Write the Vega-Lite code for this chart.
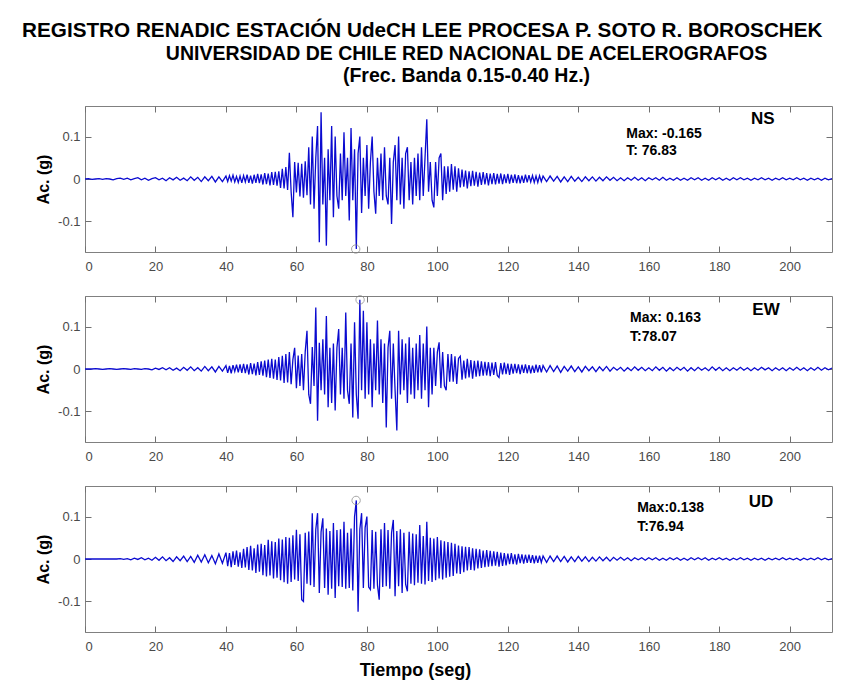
{
"$schema":"https://vega.github.io/schema/vega-lite/v6.json",
"background":"white",
"padding":{"left":22,"top":19,"right":10,"bottom":5},
"title":{"text":"REGISTRO RENADIC ESTACIÓN UdeCH LEE PROCESA P. SOTO R. BOROSCHEK","anchor":"start","frame":"bounds","font":"Liberation Sans","fontSize":20.7,"fontWeight":"bold","color":"#000","dx":-13,"offset":2},
"datasets":{
"peaks":[{"c":"NS","t":76.83,"a":-0.165},{"c":"EW","t":78.07,"a":0.163},{"c":"UD","t":76.94,"a":0.138}],
"ann":[
{"c":"NS","k":"s","t":153.6,"y":0.107,"txt":"Max: -0.165"},{"c":"NS","k":"s","t":153.6,"y":0.065,"txt":"T: 76.83"},{"c":"NS","k":"b","t":189,"y":0.142,"txt":"NS"},
{"c":"EW","k":"s","t":154.7,"y":0.121,"txt":"Max: 0.163"},{"c":"EW","k":"s","t":154.7,"y":0.076,"txt":"T:78.07"},{"c":"EW","k":"b","t":189.4,"y":0.139,"txt":"EW"},
{"c":"UD","k":"s","t":156.7,"y":0.120,"txt":"Max:0.138"},{"c":"UD","k":"s","t":156.7,"y":0.075,"txt":"T:76.94"},{"c":"UD","k":"b","t":188.4,"y":0.134,"txt":"UD"}],
"wave":[
{"t":0,"NS":0.000,"EW":0.000,"UD":0.000},{"t":1,"NS":0.001,"EW":0.000,"UD":0.000},{"t":2,"NS":-0.001,"EW":0.000,"UD":0.000},{"t":3,"NS":0.000,"EW":0.001,"UD":0.000},{"t":4,"NS":0.001,"EW":0.000,"UD":0.000},{"t":5,"NS":-0.001,"EW":-0.001,"UD":0.000},{"t":6,"NS":0.001,"EW":0.000,"UD":0.000},{"t":7,"NS":0.000,"EW":0.001,"UD":0.000},{"t":8,"NS":-0.002,"EW":0.000,"UD":0.000},{"t":9,"NS":0.001,"EW":-0.001,"UD":0.000},
{"t":10,"NS":0.002,"EW":0.000,"UD":0.001},{"t":11,"NS":-0.001,"EW":0.001,"UD":-0.001},{"t":12,"NS":0.002,"EW":0.000,"UD":0.001},{"t":13,"NS":-0.002,"EW":-0.001,"UD":-0.002},{"t":14,"NS":0.001,"EW":0.001,"UD":0.002},{"t":15,"NS":0.003,"EW":0.000,"UD":-0.001},{"t":16,"NS":-0.002,"EW":-0.001,"UD":0.003},{"t":17,"NS":0.002,"EW":0.001,"UD":-0.002},{"t":18,"NS":-0.003,"EW":0.000,"UD":0.002},{"t":19,"NS":0.001,"EW":-0.002,"UD":-0.003},
{"t":20,"NS":0.003,"EW":0.002,"UD":0.004},{"t":21,"NS":-0.002,"EW":-0.001,"UD":-0.003},{"t":22,"NS":0.002,"EW":0.003,"UD":0.005},{"t":23,"NS":-0.004,"EW":-0.002,"UD":-0.004},{"t":24,"NS":0.003,"EW":0.003,"UD":0.003},{"t":25,"NS":-0.002,"EW":-0.003,"UD":-0.006},{"t":26,"NS":0.004,"EW":0.002,"UD":0.005},{"t":27,"NS":-0.003,"EW":-0.004,"UD":-0.004},{"t":28,"NS":0.002,"EW":0.004,"UD":0.007},{"t":29,"NS":-0.004,"EW":-0.003,"UD":-0.006},
{"t":30,"NS":0.005,"EW":0.005,"UD":0.006},{"t":31,"NS":-0.003,"EW":-0.004,"UD":-0.008},{"t":32,"NS":0.004,"EW":0.003,"UD":0.009},{"t":33,"NS":-0.006,"EW":-0.005,"UD":-0.007},{"t":34,"NS":0.005,"EW":0.006,"UD":0.010},{"t":35,"NS":-0.004,"EW":-0.004,"UD":-0.009},{"t":36,"NS":0.006,"EW":0.005,"UD":0.008},{"t":37,"NS":-0.007,"EW":-0.007,"UD":-0.011},{"t":38,"NS":0.005,"EW":0.006,"UD":0.012},{"t":39,"NS":-0.006,"EW":-0.005,"UD":-0.010},
{"t":40,"NS":0.007,"EW":0.008,"UD":0.015},{"t":40.5,"NS":-0.006,"EW":-0.009,"UD":-0.017},{"t":41,"NS":0.008,"EW":0.007,"UD":0.014},{"t":41.5,"NS":-0.005,"EW":-0.010,"UD":-0.019},{"t":42,"NS":0.009,"EW":0.009,"UD":0.018},{"t":42.5,"NS":-0.007,"EW":-0.006,"UD":-0.014},{"t":43,"NS":0.006,"EW":0.010,"UD":0.020},{"t":43.5,"NS":-0.008,"EW":-0.008,"UD":-0.018},{"t":44,"NS":0.007,"EW":0.011,"UD":0.016},{"t":44.5,"NS":-0.009,"EW":-0.009,"UD":-0.021},
{"t":45,"NS":0.008,"EW":0.012,"UD":0.024},{"t":45.5,"NS":-0.007,"EW":-0.010,"UD":-0.020},{"t":46,"NS":0.010,"EW":0.011,"UD":0.028},{"t":46.5,"NS":-0.009,"EW":-0.013,"UD":-0.026},{"t":47,"NS":0.008,"EW":0.014,"UD":0.031},{"t":47.5,"NS":-0.011,"EW":-0.012,"UD":-0.027},{"t":48,"NS":0.010,"EW":0.013,"UD":0.025},{"t":48.5,"NS":-0.009,"EW":-0.015,"UD":-0.033},{"t":49,"NS":0.012,"EW":0.016,"UD":0.034},{"t":49.5,"NS":-0.010,"EW":-0.014,"UD":-0.030},
{"t":50,"NS":0.011,"EW":0.018,"UD":0.036},{"t":50.5,"NS":-0.013,"EW":-0.016,"UD":-0.038},{"t":51,"NS":0.014,"EW":0.020,"UD":0.033},{"t":51.5,"NS":-0.012,"EW":-0.019,"UD":-0.041},{"t":52,"NS":0.013,"EW":0.022,"UD":0.045},{"t":52.5,"NS":-0.015,"EW":-0.021,"UD":-0.039},{"t":53,"NS":0.016,"EW":0.024,"UD":0.042},{"t":53.5,"NS":-0.014,"EW":-0.023,"UD":-0.046},{"t":54,"NS":0.017,"EW":0.022,"UD":0.040},{"t":54.5,"NS":-0.016,"EW":-0.026,"UD":-0.044},
{"t":55,"NS":0.018,"EW":0.028,"UD":0.048},{"t":55.5,"NS":-0.021,"EW":-0.027,"UD":-0.050},{"t":56,"NS":0.024,"EW":0.031,"UD":0.046},{"t":56.5,"NS":-0.022,"EW":-0.033,"UD":-0.055},{"t":57,"NS":0.028,"EW":0.035,"UD":0.052},{"t":57.5,"NS":-0.026,"EW":-0.032,"UD":-0.058},{"t":58,"NS":0.062,"EW":0.040,"UD":0.050},{"t":58.5,"NS":-0.030,"EW":-0.036,"UD":-0.054},{"t":59,"NS":-0.090,"EW":0.022,"UD":0.056},{"t":59.5,"NS":0.040,"EW":0.050,"UD":-0.048},
{"t":60,"NS":-0.032,"EW":-0.045,"UD":0.069},{"t":60.5,"NS":0.038,"EW":0.032,"UD":-0.052},{"t":61,"NS":-0.041,"EW":-0.040,"UD":0.058},{"t":61.5,"NS":0.036,"EW":0.035,"UD":-0.096},{"t":62,"NS":-0.044,"EW":-0.050,"UD":-0.100},{"t":62.5,"NS":0.042,"EW":0.041,"UD":0.062},{"t":63,"NS":-0.038,"EW":0.090,"UD":-0.058},{"t":63.5,"NS":0.075,"EW":-0.060,"UD":0.065},{"t":64,"NS":-0.060,"EW":-0.082,"UD":-0.062},{"t":64.5,"NS":0.100,"EW":0.052,"UD":0.108},
{"t":65,"NS":-0.070,"EW":-0.040,"UD":-0.066},{"t":65.5,"NS":0.050,"EW":0.145,"UD":0.070},{"t":66,"NS":0.125,"EW":-0.122,"UD":0.108},{"t":66.5,"NS":-0.149,"EW":0.062,"UD":-0.080},{"t":67,"NS":0.157,"EW":-0.050,"UD":0.064},{"t":67.5,"NS":-0.060,"EW":0.070,"UD":0.096},{"t":68,"NS":0.050,"EW":-0.060,"UD":-0.068},{"t":68.5,"NS":-0.157,"EW":0.125,"UD":0.072},{"t":69,"NS":0.070,"EW":-0.090,"UD":-0.084},{"t":69.5,"NS":-0.050,"EW":0.050,"UD":0.066},
{"t":70,"NS":0.125,"EW":-0.080,"UD":-0.070},{"t":70.5,"NS":-0.090,"EW":0.060,"UD":0.085},{"t":71,"NS":0.100,"EW":-0.098,"UD":-0.092},{"t":71.5,"NS":-0.040,"EW":0.050,"UD":0.068},{"t":72,"NS":-0.070,"EW":0.094,"UD":-0.064},{"t":72.5,"NS":0.060,"EW":-0.060,"UD":0.070},{"t":73,"NS":-0.050,"EW":0.050,"UD":-0.066},{"t":73.5,"NS":0.110,"EW":-0.070,"UD":0.088},{"t":74,"NS":-0.040,"EW":0.133,"UD":-0.070},{"t":74.5,"NS":0.050,"EW":-0.050,"UD":0.062},
{"t":75,"NS":-0.098,"EW":-0.082,"UD":-0.068},{"t":75.5,"NS":0.120,"EW":0.060,"UD":0.072},{"t":76,"NS":-0.050,"EW":-0.114,"UD":-0.074},{"t":76.5,"NS":0.070,"EW":0.110,"UD":0.100},{"t":77,"NS":-0.165,"EW":-0.060,"UD":0.138},{"t":77.5,"NS":0.060,"EW":-0.117,"UD":-0.124},{"t":78,"NS":0.100,"EW":0.163,"UD":0.070},{"t":78.5,"NS":-0.080,"EW":-0.050,"UD":0.108},{"t":79,"NS":0.050,"EW":0.137,"UD":-0.068},{"t":79.5,"NS":-0.040,"EW":-0.070,"UD":0.074},
{"t":80,"NS":0.080,"EW":0.110,"UD":0.100},{"t":80.5,"NS":-0.070,"EW":-0.060,"UD":-0.066},{"t":81,"NS":0.040,"EW":0.070,"UD":-0.072},{"t":81.5,"NS":0.100,"EW":-0.090,"UD":0.068},{"t":82,"NS":-0.030,"EW":0.060,"UD":-0.070},{"t":82.5,"NS":-0.082,"EW":-0.050,"UD":0.064},{"t":83,"NS":0.050,"EW":0.114,"UD":-0.062},{"t":83.5,"NS":-0.040,"EW":-0.060,"UD":-0.096},{"t":84,"NS":0.060,"EW":0.070,"UD":0.070},{"t":84.5,"NS":-0.050,"EW":-0.080,"UD":-0.066},
{"t":85,"NS":0.075,"EW":0.060,"UD":0.085},{"t":85.5,"NS":-0.040,"EW":-0.138,"UD":-0.064},{"t":86,"NS":-0.060,"EW":0.050,"UD":0.068},{"t":86.5,"NS":0.050,"EW":0.090,"UD":-0.070},{"t":87,"NS":-0.106,"EW":-0.070,"UD":0.062},{"t":87.5,"NS":0.040,"EW":0.060,"UD":0.092},{"t":88,"NS":0.080,"EW":-0.050,"UD":-0.088},{"t":88.5,"NS":-0.050,"EW":-0.145,"UD":0.066},{"t":89,"NS":0.100,"EW":0.090,"UD":-0.064},{"t":89.5,"NS":-0.060,"EW":-0.060,"UD":0.070},
{"t":90,"NS":0.050,"EW":0.070,"UD":-0.080},{"t":90.5,"NS":-0.070,"EW":-0.050,"UD":0.062},{"t":91,"NS":0.060,"EW":0.060,"UD":-0.060},{"t":91.5,"NS":0.075,"EW":-0.080,"UD":-0.076},{"t":92,"NS":-0.050,"EW":0.075,"UD":0.064},{"t":92.5,"NS":0.040,"EW":-0.060,"UD":-0.058},{"t":93,"NS":-0.060,"EW":0.050,"UD":0.060},{"t":93.5,"NS":0.050,"EW":-0.070,"UD":-0.062},{"t":94,"NS":-0.040,"EW":0.060,"UD":0.058},{"t":94.5,"NS":0.060,"EW":-0.050,"UD":-0.056},
{"t":95,"NS":-0.050,"EW":0.080,"UD":0.080},{"t":95.5,"NS":0.075,"EW":-0.070,"UD":-0.058},{"t":96,"NS":-0.040,"EW":0.060,"UD":0.054},{"t":96.5,"NS":0.050,"EW":-0.050,"UD":-0.060},{"t":97,"NS":0.141,"EW":0.100,"UD":0.088},{"t":97.5,"NS":-0.030,"EW":-0.090,"UD":-0.052},{"t":98,"NS":0.040,"EW":0.050,"UD":0.050},{"t":98.5,"NS":-0.050,"EW":-0.060,"UD":-0.054},{"t":99,"NS":-0.067,"EW":0.050,"UD":0.048},{"t":99.5,"NS":0.040,"EW":-0.040,"UD":-0.050},
{"t":100,"NS":-0.040,"EW":0.040,"UD":0.052},{"t":100.5,"NS":0.050,"EW":0.063,"UD":-0.046},{"t":101,"NS":0.060,"EW":-0.045,"UD":0.044},{"t":101.5,"NS":-0.050,"EW":0.040,"UD":-0.048},{"t":102,"NS":0.030,"EW":-0.040,"UD":0.042},{"t":102.5,"NS":-0.035,"EW":-0.050,"UD":-0.044},{"t":103,"NS":0.030,"EW":0.035,"UD":0.040},{"t":103.5,"NS":-0.030,"EW":-0.030,"UD":-0.042},{"t":104,"NS":0.035,"EW":0.035,"UD":0.038},{"t":104.5,"NS":-0.025,"EW":-0.030,"UD":-0.040},
{"t":105,"NS":0.030,"EW":0.030,"UD":0.036},{"t":105.5,"NS":-0.030,"EW":-0.035,"UD":-0.034},{"t":106,"NS":0.025,"EW":0.025,"UD":0.032},{"t":106.5,"NS":-0.020,"EW":0.030,"UD":-0.035},{"t":107,"NS":0.022,"EW":-0.025,"UD":0.030},{"t":107.5,"NS":-0.018,"EW":0.020,"UD":-0.031},{"t":108,"NS":0.020,"EW":-0.022,"UD":0.029},{"t":108.5,"NS":-0.022,"EW":0.024,"UD":-0.027},{"t":109,"NS":0.018,"EW":-0.020,"UD":0.028},{"t":109.5,"NS":-0.017,"EW":0.021,"UD":-0.026},
{"t":110,"NS":0.019,"EW":-0.023,"UD":0.025},{"t":110.5,"NS":-0.016,"EW":0.019,"UD":-0.027},{"t":111,"NS":0.017,"EW":-0.018,"UD":0.024},{"t":111.5,"NS":-0.018,"EW":0.020,"UD":-0.022},{"t":112,"NS":0.015,"EW":-0.017,"UD":0.023},{"t":112.5,"NS":-0.014,"EW":0.018,"UD":-0.021},{"t":113,"NS":0.016,"EW":-0.016,"UD":0.020},{"t":113.5,"NS":-0.013,"EW":0.017,"UD":-0.019},{"t":114,"NS":0.014,"EW":-0.015,"UD":0.021},{"t":114.5,"NS":-0.015,"EW":0.016,"UD":-0.018},
{"t":115,"NS":0.013,"EW":-0.017,"UD":0.019},{"t":115.5,"NS":-0.012,"EW":0.015,"UD":-0.017},{"t":116,"NS":0.014,"EW":-0.014,"UD":0.018},{"t":116.5,"NS":-0.013,"EW":0.016,"UD":-0.016},{"t":117,"NS":0.012,"EW":-0.015,"UD":0.017},{"t":117.5,"NS":-0.011,"EW":-0.020,"UD":-0.018},{"t":118,"NS":0.013,"EW":0.014,"UD":0.015},{"t":118.5,"NS":-0.012,"EW":-0.013,"UD":-0.016},{"t":119,"NS":0.011,"EW":0.015,"UD":0.014},{"t":119.5,"NS":-0.010,"EW":-0.012,"UD":-0.015},
{"t":120,"NS":0.012,"EW":0.013,"UD":0.013},{"t":120.5,"NS":-0.011,"EW":-0.014,"UD":-0.012},{"t":121,"NS":0.010,"EW":0.012,"UD":0.014},{"t":121.5,"NS":-0.009,"EW":-0.011,"UD":-0.012},{"t":122,"NS":0.011,"EW":0.012,"UD":0.011},{"t":122.5,"NS":-0.010,"EW":-0.010,"UD":-0.013},{"t":123,"NS":0.009,"EW":0.011,"UD":0.012},{"t":123.5,"NS":-0.010,"EW":-0.012,"UD":-0.010},{"t":124,"NS":0.008,"EW":0.010,"UD":0.011},{"t":124.5,"NS":-0.009,"EW":-0.009,"UD":-0.011},
{"t":125,"NS":0.010,"EW":0.011,"UD":0.010},{"t":125.5,"NS":-0.008,"EW":-0.010,"UD":-0.009},{"t":126,"NS":0.009,"EW":0.009,"UD":0.010},{"t":126.5,"NS":-0.007,"EW":-0.010,"UD":-0.009},{"t":127,"NS":0.008,"EW":0.008,"UD":0.009},{"t":127.5,"NS":-0.008,"EW":-0.009,"UD":-0.010},{"t":128,"NS":0.007,"EW":0.010,"UD":0.008},{"t":128.5,"NS":-0.008,"EW":-0.008,"UD":-0.009},{"t":129,"NS":0.008,"EW":0.009,"UD":0.008},{"t":129.5,"NS":-0.006,"EW":-0.008,"UD":-0.008},
{"t":130,"NS":0.007,"EW":0.008,"UD":0.007},{"t":131,"NS":-0.006,"EW":-0.007,"UD":-0.008},{"t":132,"NS":0.007,"EW":0.008,"UD":0.007},{"t":133,"NS":-0.005,"EW":-0.006,"UD":-0.006},{"t":134,"NS":0.006,"EW":0.007,"UD":0.007},{"t":135,"NS":-0.007,"EW":-0.008,"UD":-0.006},{"t":136,"NS":0.005,"EW":0.006,"UD":0.006},{"t":137,"NS":-0.006,"EW":-0.005,"UD":-0.007},{"t":138,"NS":0.006,"EW":0.007,"UD":0.005},{"t":139,"NS":-0.005,"EW":-0.006,"UD":-0.006},
{"t":140,"NS":0.004,"EW":0.005,"UD":0.006},{"t":141,"NS":-0.006,"EW":-0.007,"UD":-0.005},{"t":142,"NS":0.005,"EW":0.006,"UD":0.005},{"t":143,"NS":-0.004,"EW":-0.004,"UD":-0.006},{"t":144,"NS":0.005,"EW":0.005,"UD":0.004},{"t":145,"NS":-0.005,"EW":-0.006,"UD":-0.005},{"t":146,"NS":0.004,"EW":0.005,"UD":0.005},{"t":147,"NS":-0.004,"EW":-0.004,"UD":-0.004},{"t":148,"NS":0.005,"EW":0.006,"UD":0.004},{"t":149,"NS":-0.003,"EW":-0.005,"UD":-0.005},
{"t":150,"NS":0.004,"EW":0.004,"UD":0.004},{"t":151,"NS":-0.004,"EW":-0.003,"UD":-0.003},{"t":152,"NS":0.003,"EW":0.004,"UD":0.004},{"t":153,"NS":-0.004,"EW":-0.005,"UD":-0.003},{"t":154,"NS":0.003,"EW":0.003,"UD":0.003},{"t":155,"NS":-0.003,"EW":-0.004,"UD":-0.004},{"t":156,"NS":0.004,"EW":0.005,"UD":0.003},{"t":157,"NS":-0.003,"EW":-0.003,"UD":-0.002},{"t":158,"NS":0.003,"EW":0.004,"UD":0.003},{"t":159,"NS":-0.004,"EW":-0.004,"UD":-0.003},
{"t":160,"NS":0.003,"EW":0.003,"UD":0.003},{"t":161,"NS":-0.002,"EW":-0.004,"UD":-0.002},{"t":162,"NS":0.003,"EW":0.005,"UD":0.003},{"t":163,"NS":-0.003,"EW":-0.003,"UD":-0.003},{"t":164,"NS":0.004,"EW":0.004,"UD":0.002},{"t":165,"NS":-0.003,"EW":-0.005,"UD":-0.003},{"t":166,"NS":0.002,"EW":0.003,"UD":0.003},{"t":167,"NS":-0.003,"EW":-0.004,"UD":-0.002},{"t":168,"NS":0.003,"EW":0.004,"UD":0.003},{"t":169,"NS":-0.003,"EW":-0.003,"UD":-0.003},
{"t":170,"NS":0.002,"EW":0.004,"UD":0.002},{"t":171,"NS":-0.003,"EW":-0.005,"UD":-0.003},{"t":172,"NS":0.003,"EW":0.003,"UD":0.003},{"t":173,"NS":-0.002,"EW":-0.004,"UD":-0.002},{"t":174,"NS":0.003,"EW":0.004,"UD":0.003},{"t":175,"NS":-0.003,"EW":-0.003,"UD":-0.002},{"t":176,"NS":0.002,"EW":0.003,"UD":0.003},{"t":177,"NS":-0.003,"EW":-0.004,"UD":-0.003},{"t":178,"NS":0.003,"EW":0.005,"UD":0.002},{"t":179,"NS":-0.002,"EW":-0.003,"UD":-0.002},
{"t":180,"NS":0.003,"EW":0.004,"UD":0.003},{"t":181,"NS":-0.003,"EW":-0.004,"UD":-0.002},{"t":182,"NS":0.002,"EW":0.003,"UD":0.002},{"t":183,"NS":-0.003,"EW":-0.004,"UD":-0.003},{"t":184,"NS":0.003,"EW":0.003,"UD":0.002},{"t":185,"NS":-0.002,"EW":-0.003,"UD":-0.002},{"t":186,"NS":0.003,"EW":0.004,"UD":0.003},{"t":187,"NS":-0.002,"EW":-0.003,"UD":-0.002},{"t":188,"NS":0.002,"EW":0.003,"UD":0.002},{"t":189,"NS":-0.003,"EW":-0.004,"UD":-0.003},
{"t":190,"NS":0.002,"EW":0.003,"UD":0.002},{"t":191,"NS":-0.002,"EW":-0.003,"UD":-0.002},{"t":192,"NS":0.003,"EW":0.004,"UD":0.002},{"t":193,"NS":-0.002,"EW":-0.002,"UD":-0.003},{"t":194,"NS":0.002,"EW":0.003,"UD":0.002},{"t":195,"NS":-0.003,"EW":-0.004,"UD":-0.002},{"t":196,"NS":0.002,"EW":0.003,"UD":0.002},{"t":197,"NS":-0.002,"EW":-0.003,"UD":-0.002},{"t":198,"NS":0.003,"EW":0.003,"UD":0.003},{"t":199,"NS":-0.002,"EW":-0.004,"UD":-0.002},
{"t":200,"NS":0.002,"EW":0.003,"UD":0.002},{"t":201,"NS":-0.002,"EW":-0.003,"UD":-0.002},{"t":202,"NS":0.003,"EW":0.004,"UD":0.002},{"t":203,"NS":-0.002,"EW":-0.003,"UD":-0.003},{"t":204,"NS":0.002,"EW":0.003,"UD":0.002},{"t":205,"NS":-0.003,"EW":-0.004,"UD":-0.002},{"t":206,"NS":0.002,"EW":0.003,"UD":0.002},{"t":207,"NS":-0.002,"EW":-0.003,"UD":-0.002},{"t":208,"NS":0.002,"EW":0.004,"UD":0.003},{"t":209,"NS":-0.003,"EW":-0.003,"UD":-0.002},
{"t":210,"NS":0.002,"EW":0.003,"UD":0.002},{"t":211,"NS":-0.002,"EW":-0.002,"UD":-0.002},{"t":212,"NS":0.001,"EW":0.002,"UD":0.001}
]},
"spacing":44,
"bounds":"flush",
"vconcat":[
{"width":747,"height":146,
 "title":{"text":["UNIVERSIDAD DE CHILE RED NACIONAL DE ACELEROGRAFOS","(Frec. Banda 0.15-0.40 Hz.)"],"anchor":"middle","frame":"group","font":"Liberation Sans","fontSize":19.5,"fontWeight":"bold","lineHeight":22,"color":"#000","dx":8,"offset":19},
 "layer":[
 {"data":{"name":"wave"},"mark":{"type":"line","stroke":"#0a0ad0","strokeWidth":1.3,"clip":true},
  "encoding":{"x":{"field":"t","type":"quantitative","scale":{"domain":[0,212],"nice":false,"zero":false},"axis":{"orient":"bottom","values":[0,20,40,60,80,100,120,140,160,180,200],"title":null}},
   "y":{"field":"NS","type":"quantitative","scale":{"domain":[-0.172,0.172],"nice":false},"axis":{"orient":"left","values":[-0.1,0,0.1],"title":"Ac. (g)","labelExpr":"datum.value > 0.05 ? '0.1' : datum.value < -0.05 ? '-0.1' : '0'"}}}},
 {"data":{"name":"peaks"},"transform":[{"filter":"datum.c == 'NS'"}],"mark":{"type":"point","shape":"circle","size":70,"color":"#808080","strokeWidth":1,"filled":false},
  "encoding":{"x":{"field":"t","type":"quantitative","axis":{"orient":"top","labels":false,"title":null,"values":[0,20,40,60,80,100,120,140,160,180,200]}},"y":{"field":"a","type":"quantitative","axis":{"orient":"right","labels":false,"title":null,"values":[-0.1,0,0.1]}}}},
 {"data":{"name":"ann"},"transform":[{"filter":"datum.c == 'NS' && datum.k == 's'"}],"mark":{"type":"text","align":"left","baseline":"middle","font":"Liberation Sans","fontSize":14,"fontWeight":"bold","color":"#000"},
  "encoding":{"x":{"field":"t","type":"quantitative","axis":null},"y":{"field":"y","type":"quantitative","axis":null},"text":{"field":"txt"}}},
 {"data":{"name":"ann"},"transform":[{"filter":"datum.c == 'NS' && datum.k == 'b'"}],"mark":{"type":"text","align":"left","baseline":"middle","font":"Liberation Sans","fontSize":17,"fontWeight":"bold","color":"#000"},
  "encoding":{"x":{"field":"t","type":"quantitative","axis":null},"y":{"field":"y","type":"quantitative","axis":null},"text":{"field":"txt"}}}
 ]},
{"width":747,"height":146,
 "layer":[
 {"data":{"name":"wave"},"mark":{"type":"line","stroke":"#0a0ad0","strokeWidth":1.3,"clip":true},
  "encoding":{"x":{"field":"t","type":"quantitative","scale":{"domain":[0,212],"nice":false,"zero":false},"axis":{"orient":"bottom","values":[0,20,40,60,80,100,120,140,160,180,200],"title":null}},
   "y":{"field":"EW","type":"quantitative","scale":{"domain":[-0.172,0.172],"nice":false},"axis":{"orient":"left","values":[-0.1,0,0.1],"title":"Ac. (g)","labelExpr":"datum.value > 0.05 ? '0.1' : datum.value < -0.05 ? '-0.1' : '0'"}}}},
 {"data":{"name":"peaks"},"transform":[{"filter":"datum.c == 'EW'"}],"mark":{"type":"point","shape":"circle","size":70,"color":"#808080","strokeWidth":1,"filled":false},
  "encoding":{"x":{"field":"t","type":"quantitative","axis":{"orient":"top","labels":false,"title":null,"values":[0,20,40,60,80,100,120,140,160,180,200]}},"y":{"field":"a","type":"quantitative","axis":{"orient":"right","labels":false,"title":null,"values":[-0.1,0,0.1]}}}},
 {"data":{"name":"ann"},"transform":[{"filter":"datum.c == 'EW' && datum.k == 's'"}],"mark":{"type":"text","align":"left","baseline":"middle","font":"Liberation Sans","fontSize":14,"fontWeight":"bold","color":"#000"},
  "encoding":{"x":{"field":"t","type":"quantitative","axis":null},"y":{"field":"y","type":"quantitative","axis":null},"text":{"field":"txt"}}},
 {"data":{"name":"ann"},"transform":[{"filter":"datum.c == 'EW' && datum.k == 'b'"}],"mark":{"type":"text","align":"left","baseline":"middle","font":"Liberation Sans","fontSize":17,"fontWeight":"bold","color":"#000"},
  "encoding":{"x":{"field":"t","type":"quantitative","axis":null},"y":{"field":"y","type":"quantitative","axis":null},"text":{"field":"txt"}}}
 ]},
{"width":747,"height":146,
 "layer":[
 {"data":{"name":"wave"},"mark":{"type":"line","stroke":"#0a0ad0","strokeWidth":1.3,"clip":true},
  "encoding":{"x":{"field":"t","type":"quantitative","scale":{"domain":[0,212],"nice":false,"zero":false},"axis":{"orient":"bottom","values":[0,20,40,60,80,100,120,140,160,180,200],"title":"Tiempo (seg)","titleFontSize":18,"titleX":330}},
   "y":{"field":"UD","type":"quantitative","scale":{"domain":[-0.172,0.172],"nice":false},"axis":{"orient":"left","values":[-0.1,0,0.1],"title":"Ac. (g)","labelExpr":"datum.value > 0.05 ? '0.1' : datum.value < -0.05 ? '-0.1' : '0'"}}}},
 {"data":{"name":"peaks"},"transform":[{"filter":"datum.c == 'UD'"}],"mark":{"type":"point","shape":"circle","size":70,"color":"#808080","strokeWidth":1,"filled":false},
  "encoding":{"x":{"field":"t","type":"quantitative","axis":{"orient":"top","labels":false,"title":null,"values":[0,20,40,60,80,100,120,140,160,180,200]}},"y":{"field":"a","type":"quantitative","axis":{"orient":"right","labels":false,"title":null,"values":[-0.1,0,0.1]}}}},
 {"data":{"name":"ann"},"transform":[{"filter":"datum.c == 'UD' && datum.k == 's'"}],"mark":{"type":"text","align":"left","baseline":"middle","font":"Liberation Sans","fontSize":14,"fontWeight":"bold","color":"#000"},
  "encoding":{"x":{"field":"t","type":"quantitative","axis":null},"y":{"field":"y","type":"quantitative","axis":null},"text":{"field":"txt"}}},
 {"data":{"name":"ann"},"transform":[{"filter":"datum.c == 'UD' && datum.k == 'b'"}],"mark":{"type":"text","align":"left","baseline":"middle","font":"Liberation Sans","fontSize":17,"fontWeight":"bold","color":"#000"},
  "encoding":{"x":{"field":"t","type":"quantitative","axis":null},"y":{"field":"y","type":"quantitative","axis":null},"text":{"field":"txt"}}}
 ]}
],
"config":{
 "view":{"stroke":"#808080","strokeWidth":1},
 "font":"Liberation Sans",
 "axis":{"domain":false,"grid":false,"tickSize":-6,"tickColor":"#707070","labelFont":"Liberation Sans","labelFontSize":13,"labelColor":"#4a4a4a","titleFont":"Liberation Sans","titleFontSize":16,"titleFontWeight":"bold","titleColor":"#000000"},
 "axisX":{"labelPadding":14,"titlePadding":8},
 "axisY":{"labelPadding":11,"titlePadding":6}
}
}
